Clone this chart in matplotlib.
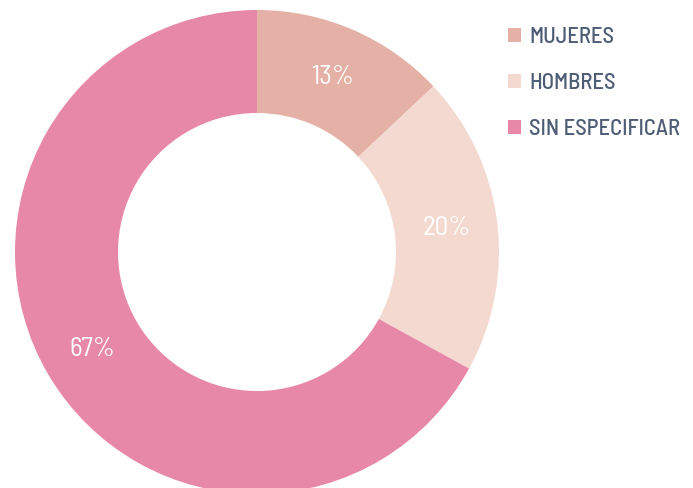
import matplotlib
matplotlib.use("Agg")
import matplotlib.pyplot as plt
from matplotlib.patches import Patch

labels = ["MUJERES", "HOMBRES", "SIN ESPECIFICAR"]
values = [13, 20, 67]
colors = ["#E5B0A6", "#F3D9CF", "#E888A9"]

plt.rcParams['font.family'] = ['Barlow Semi Condensed', 'DejaVu Sans']

fig = plt.figure(figsize=(6.93, 4.88), dpi=100)
ax = fig.add_axes([0, 0, 1, 1])

wedges, texts, autotexts = ax.pie(
    values, colors=colors, startangle=90, counterclock=False,
    center=(257, 236), radius=242, autopct='%d%%', pctdistance=0.79,
    wedgeprops=dict(width=103, edgecolor='none'),
    textprops=dict(color='white', fontsize=19.5),
    frame=True,
)
ax.set_xlim(0, 693)
ax.set_ylim(0, 488)
ax.set_aspect('equal')
ax.axis('off')

handles = [Patch(facecolor=c, edgecolor='none') for c in colors]
leg = ax.legend(handles, labels, loc='upper left', bbox_to_anchor=(508 / 693, 1 - 27 / 488),
                frameon=False, handlelength=0.57, handleheight=0.57,
                prop=dict(size=16.3, weight='medium'),
                handletextpad=0.37, labelspacing=1.15, borderaxespad=0, borderpad=0)
for t in leg.get_texts():
    t.set_color('#4E5D75')

fig.savefig("out.png", dpi=100)
